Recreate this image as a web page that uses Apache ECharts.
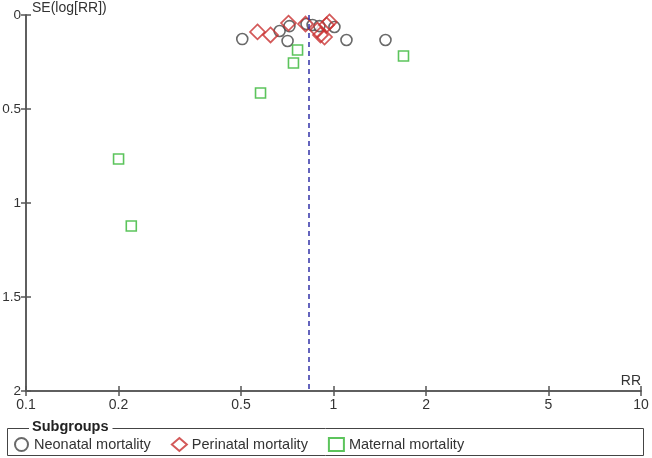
<!DOCTYPE html>
<html>
<head>
<meta charset="utf-8">
<script src="https://cdn.jsdelivr.net/npm/echarts@6/dist/echarts.min.js"></script>
<style>html,body{margin:0;padding:0;background:#fff}#c{width:652px;height:458px}</style>
</head>
<body>
<div id="c"></div>
<script>
// Data: RR and SE(log RR) per subgroup
var neonatalRR = [0.505, 0.668, 0.709, 0.719, 0.817, 0.855, 0.900, 1.007, 1.102, 1.476];
var neonatalSE = [0.128, 0.085, 0.138, 0.059, 0.048, 0.053, 0.059, 0.064, 0.133, 0.133];
var perinatalRR = [0.566, 0.624, 0.714, 0.811, 0.887, 0.907, 0.935, 0.949, 0.970];
var perinatalSE = [0.090, 0.106, 0.043, 0.048, 0.080, 0.106, 0.117, 0.053, 0.037];
var maternalRR = [0.764, 0.741, 1.689, 0.579, 0.200, 0.220];
var maternalSE = [0.186, 0.255, 0.218, 0.415, 0.766, 1.122];
var pooledRR = 0.83;
var xTicks = [0.1, 0.2, 0.5, 1, 2, 5, 10];
var yTicks = [0, 0.5, 1, 1.5, 2];
var seriesNames = ['Neonatal mortality', 'Perinatal mortality', 'Maternal mortality'];

function pairs(xs, ys) { return xs.map(function (x, i) { return [x, ys[i]]; }); }

var font = 'Liberation Sans, Arial, sans-serif';
var axisColor = '#555';
var chart = echarts.init(document.getElementById('c'), null, { renderer: 'canvas' });

var baseX = {
  type: 'log', logBase: 10, min: 0.1, max: 10, position: 'bottom',
  axisLine: { show: true, onZero: false, lineStyle: { color: axisColor, width: 1.5 } },
  splitLine: { show: false }, minorTick: { show: false }
};
var baseY = {
  type: 'value', min: 0, max: 2, interval: 0.5, inverse: true, position: 'left',
  axisLine: { show: true, onZero: false, lineStyle: { color: axisColor, width: 1.5 } },
  splitLine: { show: false }
};

chart.setOption({
  animation: false,
  backgroundColor: '#fff',
  textStyle: { fontFamily: font },
  grid: { left: 26, right: 11, top: 15, bottom: 67, containLabel: false, outerBoundsMode: 'none' },
  xAxis: [
    Object.assign({}, baseX, {
      axisTick: { show: true, inside: false, length: 5, customValues: xTicks, lineStyle: { color: axisColor, width: 1.5 } },
      axisLabel: { show: true, customValues: xTicks, margin: 7, color: '#333', fontSize: 14, fontFamily: font,
        formatter: function (v) { return String(+(+v).toPrecision(3)); } }
    }),
    Object.assign({}, baseX, {
      axisTick: { show: true, inside: true, length: 5, customValues: xTicks, lineStyle: { color: axisColor, width: 1.5 } },
      axisLabel: { show: false }
    })
  ],
  yAxis: [
    Object.assign({}, baseY, {
      name: 'SE(log[RR])', nameLocation: 'start', nameGap: 0,
      nameTextStyle: { color: '#333', fontSize: 14, fontFamily: font, align: 'left', verticalAlign: 'bottom', padding: [0, 0, 0, 6] },
      axisTick: { show: true, inside: false, length: 5, lineStyle: { color: axisColor, width: 1.5 } },
      axisLabel: { margin: 5, color: '#333', fontSize: 13.5, fontFamily: font,
        formatter: function (v) { return yTicks.indexOf(v) >= 0 ? String(v) : ''; } }
    }),
    Object.assign({}, baseY, {
      axisTick: { show: true, inside: true, length: 5, lineStyle: { color: axisColor, width: 1.5 } },
      axisLabel: { show: false }
    })
  ],
  legend: {
    left: 9, top: 432, itemGap: 20, itemWidth: 15, itemHeight: 13,
    selectedMode: false,
    textStyle: { color: '#333', fontSize: 14.5, fontFamily: font, padding: [0, 0, 0, 0] },
    data: [
      { name: seriesNames[0], icon: 'circle' },
      { name: seriesNames[1], icon: 'diamond' },
      { name: seriesNames[2], icon: 'rect' }
    ]
  },
  graphic: [
    { type: 'rect', shape: { x: 7.5, y: 428.5, width: 636, height: 27 }, style: { fill: 'none', stroke: '#444', lineWidth: 1 }, z: 0 },
    { type: 'text', x: 29, y: 427, style: { text: 'Subgroups', fontWeight: 'bold', fontSize: 14.5, fontFamily: font, fill: '#222', backgroundColor: '#fff', padding: [0, 4, 0, 3], verticalAlign: 'middle' }, z: 10 },
    { type: 'text', x: 641, y: 388, style: { text: 'RR', fontSize: 14, fontFamily: font, fill: '#333', align: 'right', verticalAlign: 'bottom' }, z: 10 }
  ],
  series: [
    {
      name: seriesNames[0], type: 'scatter', symbol: 'circle', symbolSize: 11,
      data: pairs(neonatalRR, neonatalSE),
      itemStyle: { color: '#fff', borderColor: '#444', borderWidth: 1.6 },
      markLine: {
        silent: true, symbol: 'none', label: { show: false },
        lineStyle: { color: '#3232a8', type: [5, 4], width: 1.5 },
        data: [[{ coord: [pooledRR, 0] }, { coord: [pooledRR, 2] }]]
      },
      z: 3
    },
    {
      name: seriesNames[1], type: 'scatter', symbol: 'diamond', symbolSize: 15,
      data: pairs(perinatalRR, perinatalSE),
      itemStyle: { color: 'rgba(255,255,255,0)', borderColor: '#c83030', borderWidth: 1.7 },
      z: 4
    },
    {
      name: seriesNames[2], type: 'scatter', symbol: 'rect', symbolSize: 10,
      data: pairs(maternalRR, maternalSE),
      itemStyle: { color: 'rgba(255,255,255,0)', borderColor: '#33b533', borderWidth: 1.6 },
      z: 4
    }
  ]
});
</script>
</body>
</html>
